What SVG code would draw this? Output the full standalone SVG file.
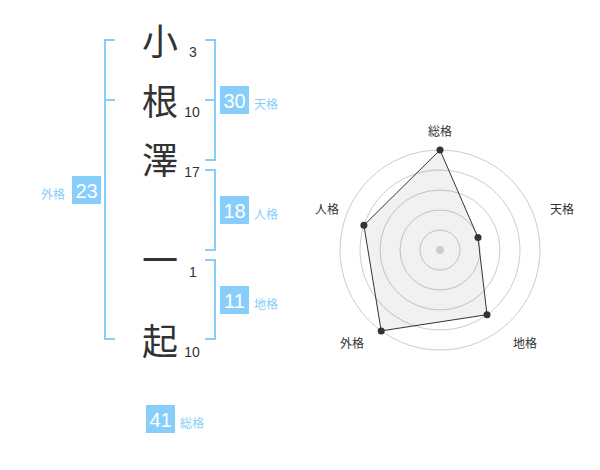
<svg xmlns="http://www.w3.org/2000/svg" width="600" height="470" viewBox="0 0 600 470">
<style>
.br{fill:none;stroke:#87cefa;stroke-width:2}
.ch{font-family:"Noto Sans CJK JP","Noto Sans CJK SC",sans-serif;font-size:36px;fill:#333;text-anchor:middle}
.st{font-family:"Liberation Sans",Arial,sans-serif;font-size:14px;fill:#333;text-anchor:middle}
.bx{fill:#87cefa}
.bn{font-family:"Liberation Sans",Arial,sans-serif;font-size:20px;fill:#fff;text-anchor:middle}
.bl{font-family:"Noto Sans CJK JP","Noto Sans CJK SC",sans-serif;font-size:12px;fill:#87cefa}
.ring{fill:none;stroke:#ccc;stroke-width:1}
.rl{font-family:"Noto Sans CJK JP","Noto Sans CJK SC",sans-serif;font-size:12px;fill:#333;text-anchor:middle}
.dot{fill:#333}
</style>
<rect width="600" height="470" fill="#fff"/>
<g id="connectors">
<path class="br" d="M115,40 H105 V339 H115 M105,100 H115"/>
<path class="br" d="M205,40 H215 V160 H205 M215,100 H205"/>
<path class="br" d="M205,170 H215 V250 H205"/>
<path class="br" d="M205,260 H215 V339 H205"/>
</g>
<g id="name">
<g id="c1"><text class="ch" x="160" y="55">小</text><text class="st" x="193" y="57">3</text></g>
<g id="c2"><text class="ch" x="160" y="115">根</text><text class="st" x="192" y="117">10</text></g>
<g id="c3"><text class="ch" x="160" y="174">澤</text><text class="st" x="192" y="177">17</text></g>
<g id="c4"><text class="ch" x="160" y="274">一</text><text class="st" x="193" y="277">1</text></g>
<g id="c5"><text class="ch" x="160" y="355">起</text><text class="st" x="192" y="357">10</text></g>
</g>
<g id="tenkaku"><rect class="bx" x="220" y="86" width="29" height="28"/><text class="bn" x="234.5" y="108">30</text><text class="bl" x="254" y="109">天格</text></g>
<g id="gaikaku"><rect class="bx" x="72" y="176" width="29" height="28"/><text class="bn" x="86.5" y="198">23</text><text class="bl" x="41" y="199">外格</text></g>
<g id="jinkaku"><rect class="bx" x="220" y="196" width="29" height="28"/><text class="bn" x="234.5" y="218">18</text><text class="bl" x="254" y="219">人格</text></g>
<g id="chikaku"><rect class="bx" x="220" y="286" width="29" height="28"/><text class="bn" x="234.5" y="308">11</text><text class="bl" x="254" y="309">地格</text></g>
<g id="soukaku"><rect class="bx" x="146" y="405" width="29" height="28"/><text class="bn" x="160.5" y="427">41</text><text class="bl" x="180" y="428">総格</text></g>
<g id="radar">
<circle class="ring" cx="440" cy="250" r="20"/>
<circle class="ring" cx="440" cy="250" r="40"/>
<circle class="ring" cx="440" cy="250" r="60"/>
<circle class="ring" cx="440" cy="250" r="80"/>
<circle class="ring" cx="440" cy="250" r="100"/>
<polygon points="440,150 478,237.6 487,314.7 381.2,330.9 363.9,225.3" fill="#000" fill-opacity="0.055" stroke="#333" stroke-width="1"/>
<circle cx="440" cy="250" r="4" fill="#ccc"/>
<circle class="dot" cx="440" cy="150" r="3.5"/>
<circle class="dot" cx="478" cy="237.6" r="3.5"/>
<circle class="dot" cx="487" cy="314.7" r="3.5"/>
<circle class="dot" cx="381.2" cy="330.9" r="3.5"/>
<circle class="dot" cx="363.9" cy="225.3" r="3.5"/>
<text class="rl" x="440" y="136">総格</text>
<text class="rl" x="562" y="214">天格</text>
<text class="rl" x="525" y="348">地格</text>
<text class="rl" x="352" y="348">外格</text>
<text class="rl" x="327" y="214">人格</text>
</g>
</svg>
